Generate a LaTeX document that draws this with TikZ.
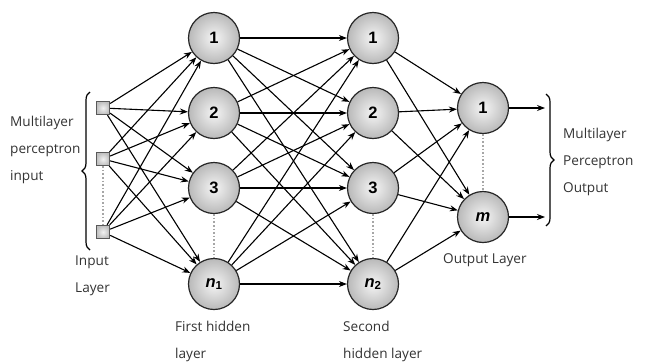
\documentclass[tikz,border=0pt]{standalone}
\usepackage{fontspec}
\setmainfont{Open Sans}
\newfontfamily\numfont{Liberation Sans}
\usetikzlibrary{arrows.meta,decorations.pathreplacing}
\tikzset{
  x=1pt,y=-1pt,
  neuron/.style={circle,draw=black!85,line width=1.2pt,minimum size=51pt,inner sep=0pt,
    shading=radial,inner color=gray!8,outer color=gray!55,
    font=\numfont\bfseries\fontsize{16.5}{16.5}\selectfont},
  inbox/.style={rectangle,draw=black!65,line width=1.3pt,minimum size=13pt,inner sep=0pt,
    shading=radial,inner color=gray!10,outer color=gray!50},
  conn/.style={line width=1.1pt,-{Stealth[length=8pt,width=6pt]}},
  dots/.style={gray!70,line width=1.6pt,dotted},
  lbl/.style={font=\fontsize{13.6}{27}\selectfont,align=left,anchor=west,inner sep=0pt,text=black!80},
  brc/.style={line width=1.2pt,decorate,decoration={brace,amplitude=8pt}}
}
\begin{document}
\begin{tikzpicture}
\useasboundingbox (0,0) rectangle (647,362);
% input squares
\node[inbox] (i1) at (103,108) {};
\node[inbox] (i2) at (103,159) {};
\node[inbox] (i3) at (103,232) {};
% first hidden
\node[neuron] (a1) at (214,38) {1};
\node[neuron] (a2) at (214,113) {2};
\node[neuron] (a3) at (214,188) {3};
\node[neuron] (a4) at (214,284) {\itshape n\textsubscript{\upshape 1}};
% second hidden
\node[neuron] (b1) at (373,38) {1};
\node[neuron] (b2) at (373,113) {2};
\node[neuron] (b3) at (373,188) {3};
\node[neuron] (b4) at (373,284) {\itshape n\textsubscript{\upshape 2}};
% output
\node[neuron] (c1) at (483,108) {1};
\node[neuron] (c2) at (483,217) {\itshape m};
% output ends
\coordinate (o1) at (545,108);
\coordinate (o2) at (545,217);
% dotted lines
\draw[dots] (i2) -- (i3);
\draw[dots] (a3) -- (a4);
\draw[dots] (b3) -- (b4);
\draw[dots] (c1) -- (c2);
% connections
\foreach \i in {i1,i2,i3}
  \foreach \j in {a1,a2,a3,a4}
    \draw[conn] (\i) -- (\j);
\foreach \i in {a1,a2,a3,a4}
  \foreach \j in {b1,b2,b3,b4}
    \draw[conn] (\i) -- (\j);
\foreach \i in {b1,b2,b3,b4}
  \foreach \j in {c1,c2}
    \draw[conn] (\i) -- (\j);
\draw[conn] (c1) -- (o1);
\draw[conn] (c2) -- (o2);
% braces
\coordinate (lb1) at (90,250);
\coordinate (lb2) at (90,92);
\draw[brc] (lb1) -- (lb2);
\coordinate (rb1) at (546,94);
\coordinate (rb2) at (546,226);
\draw[brc] (rb1) -- (rb2);
% labels
\node[lbl] (t1) at (10,150) {Multilayer\\perceptron\\input};
\node[lbl] (t2) at (75,276) {Input\\Layer};
\node[lbl] (t3) at (175,341) {First hidden\\layer};
\node[lbl] (t4) at (343,341) {Second\\hidden layer};
\node[lbl] (t5) at (443,260) {Output Layer};
\node[lbl] (t6) at (563,162) {Multilayer\\Perceptron\\Output};
\end{tikzpicture}
\end{document}
